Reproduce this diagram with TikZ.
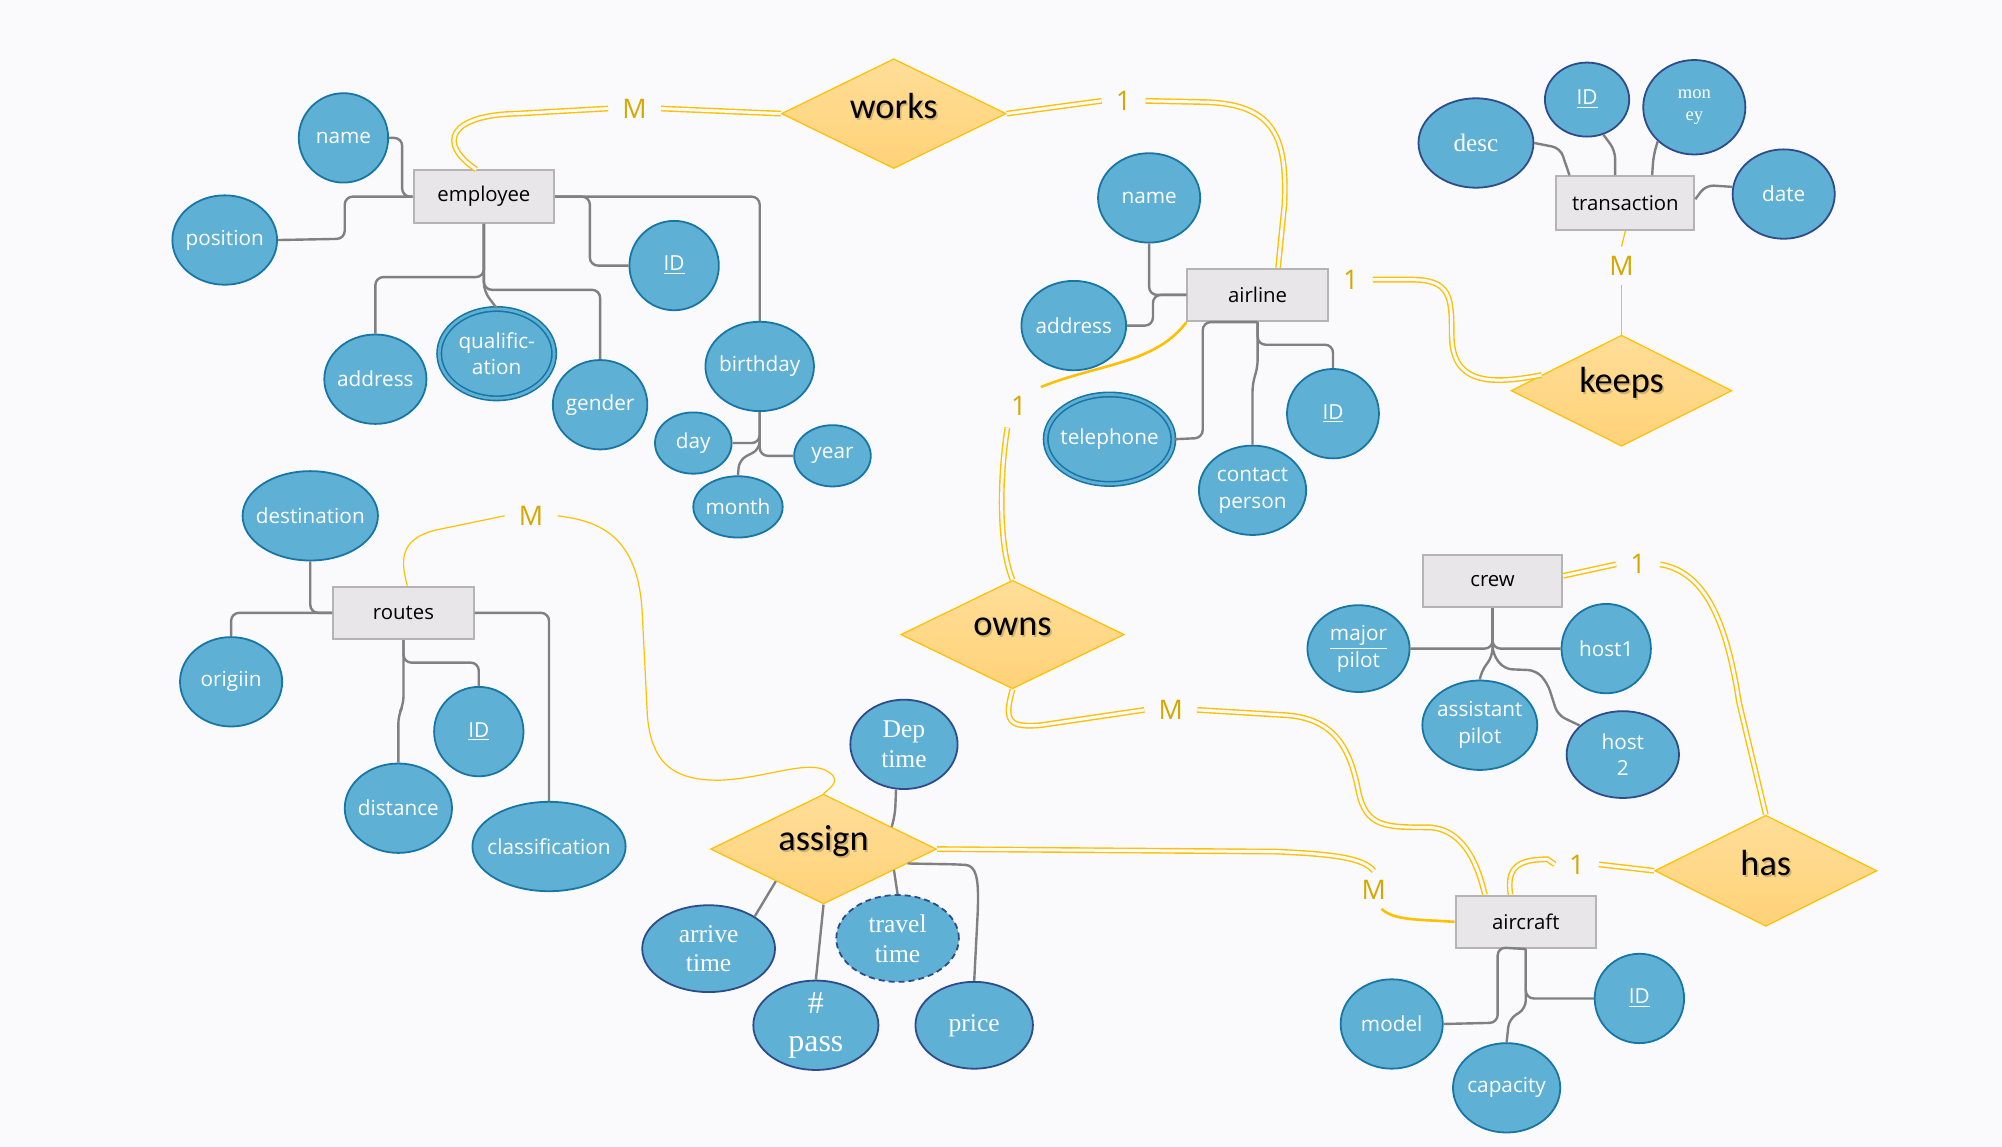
\documentclass[tikz,border=0pt]{standalone}
\usepackage{fontspec}
\usetikzlibrary{shapes.geometric,calc}
\newfontfamily\osans{Open Sans}
\newfontfamily\tserif{Liberation Serif}
\newfontfamily\calib{Carlito}
\definecolor{bgc}{RGB}{250,250,252}
\definecolor{afill}{RGB}{95,176,213}
\definecolor{ateal}{RGB}{23,118,166}
\definecolor{anavy}{RGB}{45,76,140}
\definecolor{efill}{RGB}{233,230,234}
\definecolor{edraw}{RGB}{180,180,180}
\definecolor{rtop}{RGB}{255,222,152}
\definecolor{rbot}{RGB}{255,210,120}
\definecolor{rdraw}{RGB}{255,192,0}
\definecolor{gold}{RGB}{255,192,0}
\definecolor{ctext}{RGB}{212,168,0}
\definecolor{lgrey}{RGB}{128,128,128}
\tikzset{
  attr/.style 2 args={ellipse, minimum width=#1*0.64pt, minimum height=#2*0.64pt,
    inner sep=0pt, fill=afill, draw=ateal, line width=0.9pt},
  navy/.style={draw=anavy},
  multi/.style={double=afill, double distance=1.4pt, line width=0.8pt},
  weak/.style={dash pattern=on 3pt off 2pt},
  alab/.style={text=white, font=\osans\fontsize{10.4}{13.4}\selectfont, align=center, inner sep=0pt},
  slab/.style={text=white, font=\tserif\fontsize{12.8}{15}\selectfont, align=center, inner sep=0pt},
  entity/.style 2 args={rectangle, minimum width=#1*0.64pt, minimum height=#2*0.64pt, inner sep=0pt,
    fill=efill, draw=edraw, line width=1pt, font=\osans\fontsize{10.2}{12}\selectfont},
  rel/.style 2 args={diamond, minimum width=#1*0.64pt, minimum height=#2*0.64pt, inner sep=0pt,
    top color=rtop, bottom color=rbot, draw=rdraw, line width=0.6pt},
  rshadow/.style={text=black, opacity=0.18, xshift=0.8pt, yshift=3.0pt,
    font=\calib\fontsize{18.2}{20}\selectfont, inner sep=0pt},
  rtext/.style={text=black, yshift=3.8pt, font=\calib\fontsize{18.2}{20}\selectfont, inner sep=0pt},
  card/.style={text=ctext, font=\osans\fontsize{13.5}{15}\selectfont, inner xsep=7pt, inner ysep=4.5pt},
  link/.style={draw=lgrey, line width=1.2pt, rounded corners=4pt},
  tie/.style={draw=gold, line width=0.7pt, double=bgc, double distance=1.5pt},
  tiethin/.style={draw=gold, line width=0.6pt},
  tiethick/.style={draw=gold, line width=1.3pt},
}
\begin{document}
\begin{tikzpicture}[x=0.64pt,y=-0.64pt]
\useasboundingbox (0,0) rectangle (1568,898);
\fill[bgc] (0,0) rectangle (1568,898);

% entities
\node[entity={110}{41}] (employee) at (379,154) {employee};
\node[entity={110}{41}] (airline) at (985,231) {airline};
\node[entity={108}{42}] (transaction) at (1273,159) {transaction};
\node[entity={110}{41}] (routes) at (316,480) {routes};
\node[entity={109}{41}] (crew) at (1169,455) {crew};
\node[entity={110}{41}] (aircraft) at (1195,722) {aircraft};

% relationships
\node[rel={176}{86}, label={[rshadow]center:works}, label={[rtext]center:works}] (works) at (700,89) {};
\node[rel={173}{87}, label={[rshadow]center:keeps}, label={[rtext]center:keeps}] (keeps) at (1270,306) {};
\node[rel={175}{85}, label={[rshadow]center:owns}, label={[rtext]center:owns}] (owns) at (793,497) {};
\node[rel={177}{86}, label={[rshadow]center:assign}, label={[rtext]center:assign}] (assign) at (645,665) {};
\node[rel={174}{87}, label={[rshadow]center:has}, label={[rtext]center:has}] (has) at (1383,682) {};

% employee attributes
\node[attr={70}{70}, label={[alab]center:name}] (eName) at (269,108) {};
\node[attr={82}{70}, label={[alab]center:position}] (ePos) at (176,188) {};
\node[attr={70}{70}, label={[alab]center:\underline{ID}}] (eID) at (528,208) {};
\node[attr={80}{70}, label={[alab]center:address}] (eAddr) at (294,297) {};
\node[attr={90}{70}, multi, label={[alab]center:{qualific-\\ation}}] (eQual) at (389,277) {};
\node[attr={74}{70}, label={[alab]center:gender}] (eGender) at (470,317) {};
\node[attr={85}{70}, label={[alab]center:birthday}] (eBirth) at (595,287) {};
\node[attr={60}{48}, label={[alab]center:day}] (eDay) at (543,347) {};
\node[attr={60}{48}, label={[alab]center:year}] (eYear) at (652,357) {};
\node[attr={70}{48}, label={[alab]center:month}] (eMonth) at (578,397) {};

% airline attributes
\node[attr={80}{70}, label={[alab]center:name}] (aName) at (900,155) {};
\node[attr={82}{70}, label={[alab]center:address}] (aAddr) at (841,255) {};
\node[attr={100}{70}, multi, label={[alab]center:telephone}] (aTel) at (869,344) {};
\node[attr={84}{70}, label={[alab]center:{contact\\person}}] (aContact) at (981,384) {};
\node[attr={72}{70}, label={[alab]center:\underline{ID}}] (aID) at (1044,324) {};

% transaction attributes
\node[attr={90}{70}, navy, label={[slab,font=\tserif\fontsize{12.6}{15}\selectfont]center:desc}] (tDesc) at (1156,112) {};
\node[attr={66}{58}, navy, label={[alab]center:\underline{ID}}] (tID) at (1243,78) {};
\node[attr={80}{74}, navy, label={[slab,font=\tserif\fontsize{9.3}{11}\selectfont]center:{mon\\ey}}] (tMoney) at (1327,84) {};
\node[attr={80}{70}, navy, label={[alab]center:date}] (tDate) at (1397,152) {};

% routes attributes
\node[attr={106}{70}, label={[alab]center:destination}] (rDest) at (243,404) {};
\node[attr={80}{70}, label={[alab]center:origiin}] (rOrig) at (181,534) {};
\node[attr={70}{70}, label={[alab]center:\underline{ID}}] (rID) at (375,573) {};
\node[attr={84}{70}, label={[alab]center:distance}] (rDist) at (312,633) {};
\node[attr={120}{70}, label={[alab]center:classification}] (rClass) at (430,663) {};

% assign attributes
\node[attr={84}{70}, navy, label={[slab]center:{Dep\\time}}] (aDep) at (708,583) {};
\node[attr={104}{68}, navy, label={[slab]center:{arrive\\time}}] (arrive) at (555,743) {};
\node[attr={96}{68}, navy, weak, label={[slab]center:{travel\\time}}] (aTravel) at (703,735) {};
\node[attr={98}{70}, navy, label={[slab,font=\tserif\fontsize{16}{19}\selectfont]center:{\#\\pass}}] (aPass) at (639,803) {};
\node[attr={92}{68}, navy, label={[slab]center:price}] (aPrice) at (763,803) {};

% crew attributes
\node[attr={80}{68}, label={[alab]center:{\underline{major}\\pilot}}] (cMajor) at (1064,508) {};
\node[attr={70}{70}, label={[alab]center:host1}] (cHost1) at (1258,508) {};
\node[attr={90}{70}, label={[alab]center:{assistant\\pilot}}] (cAsst) at (1159,568) {};
\node[attr={88}{68}, navy, label={[alab]center:{host\\2}}] (cHost2) at (1271,591) {};

% aircraft attributes
\node[attr={80}{70}, label={[alab]center:model}] (acModel) at (1090,802) {};
\node[attr={70}{70}, label={[alab]center:\underline{ID}}] (acID) at (1284,782) {};
\node[attr={84}{70}, label={[alab]center:capacity}] (acCap) at (1180,852) {};

% cardinalities
\node[card] (cM1) at (497,85) {M};
\node[card] (c1a) at (880,79) {1};
\node[card] (c1b) at (1058,219) {1};
\node[card] (cM2) at (1270,208) {M};
\node[card] (c1c) at (798,318) {1};
\node[card] (cM3) at (416,404) {M};
\node[card] (cM4) at (917,556) {M};
\node[card] (c1d) at (1283,442) {1};
\node[card] (c1e) at (1235,677) {1};
\node[card] (cM5) at (1076,697) {M};

% attribute connectors
\draw[link] (eName.east) -- (315,108) |- (employee.west);
\draw[link] (ePos.east) -- (270,187) |- (employee.west);
\draw[link] (employee.east) -- (462,154) |- (eID.west);
\draw[link] (employee.east) -| (eBirth.north);
\draw[link] (employee.south) -- (379,217) -| (eAddr.north);
\draw[link] (employee.south) -- (379,227) -| (eGender.north);
\draw[link] (employee.south) -- (379,228) -- (eQual.north);
\draw[link] (eBirth.south) |- (eDay.east);
\draw[link] (eBirth.south) |- (eYear.west);
\draw[link] (eBirth.south) -- (595,352) -- (579,360) -- (eMonth.north);

\draw[link] (aName.south) |- (airline.west);
\draw[link] (aAddr.east) -- (903,255) |- (airline.west);
\draw[link] (aTel.east) -- (942,343) |- (airline.south);
\draw[link] (aContact.north) -- (981,300) -- (985,288) -- (airline.south);
\draw[link] (airline.south) -- (985,270) -| (aID.north);

\draw[link] (tDesc.east) -- (1222,116) -- ($(transaction.north west)+(11,0)$);
\draw[link] (tID.-65) -- (1265,118) -- ($(transaction.north)+(-8,0)$);
\draw[link] (tMoney.-137) -- (1295,122) -- ($(transaction.north)+(21,0)$);
\draw[link] ($(transaction.east)+(0,-3)$) -- (1336,145) -- (tDate.172);

\draw[link] (rDest.south) |- (routes.west);
\draw[link] (routes.west) -| (rOrig.north);
\draw[link] (routes.east) -| (rClass.north);
\draw[link] (routes.south) -- (316,519) -| (rID.north);
\draw[link] (routes.south) -- (316,552) -- (312,560) -- (rDist.north);

\draw[link] (aDep.-100) -- (701,638) -- ($(assign.north)!0.6!(assign.east)$);
\draw[link] ($(assign.west)!0.58!(assign.south)$) -- (arrive.35);
\draw[link] (assign.south) -- (aPass.north);
\draw[link] ($(assign.south)!0.62!(assign.east)$) -- (aTravel.north);
\draw[link] ($(assign.south)!0.74!(assign.east)$) -- (750,677) .. controls (765,678) and (766,690) .. (766,710) -- (aPrice.north);

\draw[link] (crew.south) |- (cMajor.east);
\draw[link] (crew.south) |- (cHost1.west);
\draw[link] (crew.south) -- (1169,514) -- (1160,526) -- (cAsst.north);
\draw[link] (crew.south) -- (1169,512) -- (1178,524) -- (1203,525) -- (1212,535) -- (1220,560) -- (cHost2.146);

\draw[link] (aircraft.south) -- (1173,742) -- (1173,801) -- (acModel.east);
\draw[link] (aircraft.south) |- (acID.west);
\draw[link] (aircraft.south) -- (1195,790) -- (1182,798) -- (acCap.north);

% relationship connectors
\draw[tie] ($(employee.north)+(-6,0)$) .. controls (342,112) and (352,90) .. (405,89) -- (cM1.west);
\draw[tie] (cM1.east) -- (works.west);
\draw[tie] (works.east) -- (c1a.west);
\draw[tie] (c1a.east) -- (945,80) .. controls (1000,82) and (1008,110) .. (1006,160) -- ($(airline.north)+(16,0)$);
\draw[tie] (c1b.east) -- (1105,219) .. controls (1136,219) and (1137,232) .. (1137,262)
  .. controls (1137,300) and (1165,302) .. ($(keeps.west)!0.28!(keeps.north)$);
\draw[tiethin] (transaction.south) -- (cM2.north);
\draw[tiethin] (cM2.south) -- (keeps.north);
\draw[tiethick] (airline.south west) .. controls (905,285) and (860,285) .. (c1c.north east);
\draw[tie] ($(c1c.south)+(-9,2)$) .. controls (782,380) and (783,430) .. (owns.north);
\draw[tie] (owns.south) .. controls (786,565) and (790,570) .. (815,568) -- (cM4.west);
\draw[tie] (cM4.east) -- (1005,560) .. controls (1048,562) and (1058,590) .. (1064,620)
  .. controls (1070,648) and (1085,648) .. (1120,648)
  .. controls (1148,650) and (1158,680) .. ($(aircraft.north)+(-32,0)$);
\draw[tie] ($(crew.east)+(0,-4)$) -- (c1d.west);
\draw[tie] (c1d.east) .. controls (1335,448) and (1352,485) .. (1362,550) -- (has.north);
\draw[tie] ($(aircraft.north)+(-12,0)$) .. controls (1180,680) and (1188,673) .. (1212,673) -- (c1e.west);
\draw[tie] (c1e.east) -- (has.west);
\draw[tie] (assign.east) -- (1000,667) .. controls (1045,669) and (1068,672) .. (cM5.north);
\draw[tiethick] ($(cM5.south)+(6,0)$) .. controls (1092,721) and (1110,720) .. (aircraft.west);
\draw[tiethin] ($(routes.north)+(3,0)$) .. controls (314,440) and (312,422) .. (342,415) -- (cM3.west);
\draw[tiethin] (cM3.east) .. controls (470,408) and (500,420) .. (503,480) -- (507,560)
  .. controls (510,600) and (530,612) .. (566,611)
  .. controls (600,609) and (630,596) .. (646,603)
  .. controls (660,610) and (652,616) .. (assign.north);
\end{tikzpicture}
\end{document}
